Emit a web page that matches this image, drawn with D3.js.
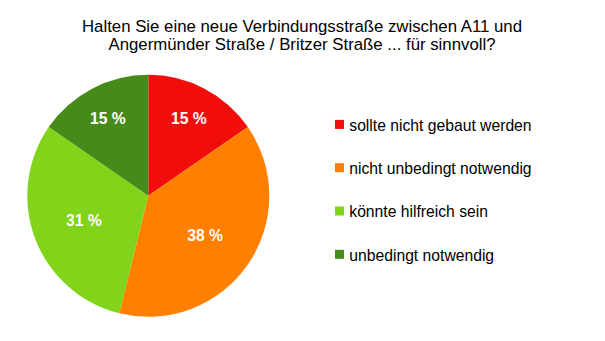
<!DOCTYPE html>
<html><head><meta charset="utf-8">
<script src="https://cdn.jsdelivr.net/npm/d3@7"></script>
<style>body{margin:0;background:#fff}svg{display:block}</style>
</head><body>
<svg id="c" width="605" height="341"></svg>
<script>
const titleLines = ["Halten Sie eine neue Verbindungsstraße zwischen A11 und", "Angermünder Straße / Britzer Straße ... für sinnvoll?"];
const categories = ["sollte nicht gebaut werden", "nicht unbedingt notwendig", "könnte hilfreich sein", "unbedingt notwendig"];
const values = [2, 5, 4, 2];
const colors = ["#F10D0C", "#FF8000", "#81D41A", "#468A1A"];

const svg = d3.select("#c");
const font = "'Liberation Sans', Arial, sans-serif";

svg.append("g").selectAll("text").data(titleLines).join("text")
  .attr("x", 302).attr("y", (d, i) => 31.7 + i * 18.5)
  .attr("text-anchor", "middle").attr("font-family", font).attr("font-size", 16.8)
  .attr("fill", "#000").text(d => d);

const cx = 148.3, cy = 195.8, R = 121;
const total = d3.sum(values);
const pie = d3.pie().sort(null).value(d => d)(values);
const arc = d3.arc().innerRadius(0).outerRadius(R);
const g = svg.append("g").attr("transform", `translate(${cx},${cy})`);
g.selectAll("path").data(pie).join("path").attr("d", arc).attr("fill", (d, i) => colors[i]);

const fmt = d => Math.round(d.value / total * 100) + " %";
g.selectAll("text").data(pie).join("text")
  .attr("transform", d => {
    const lr = (d.value / total) < 0.2 ? R * 0.72 : R * 0.57;
    const c = d3.arc().innerRadius(lr).outerRadius(lr).centroid(d);
    return `translate(${c[0]},${c[1]})`;
  })
  .attr("text-anchor", "middle").attr("dy", "0.36em")
  .attr("font-family", font).attr("font-size", 15.7).attr("font-weight", "bold")
  .attr("fill", "#fff").text(fmt);

const lg = svg.append("g").selectAll("g").data(categories).join("g")
  .attr("transform", (d, i) => `translate(335,${124.4 + i * 43.3})`);
lg.append("rect").attr("x", 0).attr("y", -4.5).attr("width", 9).attr("height", 9)
  .attr("fill", (d, i) => colors[i]);
lg.append("text").attr("x", 14.3).attr("y", 6.3).attr("font-family", font).attr("font-size", 15.7)
  .attr("fill", "#000").text(d => d);
</script>
</body></html>
